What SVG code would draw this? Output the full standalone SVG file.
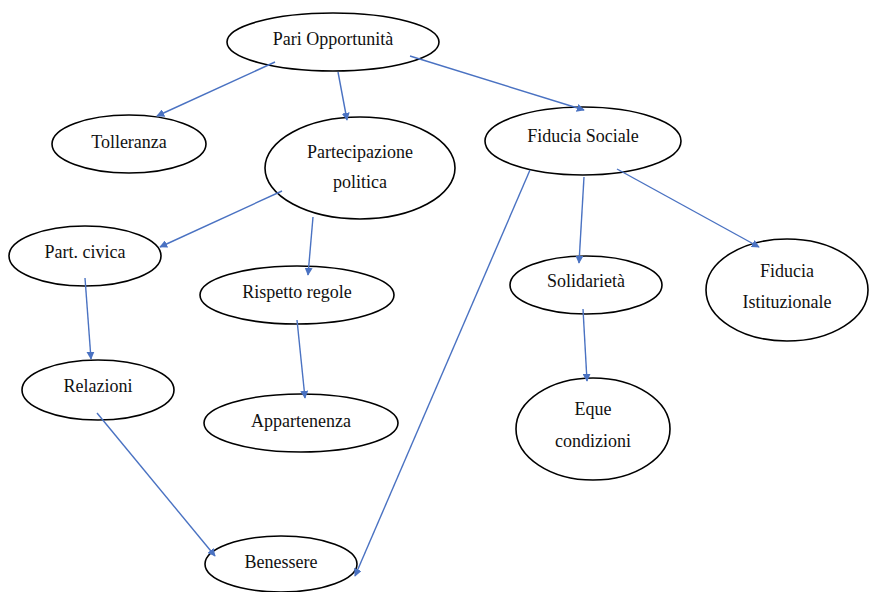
<svg xmlns="http://www.w3.org/2000/svg" width="869" height="592" viewBox="0 0 869 592">
<style>
.n ellipse{fill:#fff;stroke:#000;stroke-width:1.6}
.n text{font-family:'Liberation Serif','Times New Roman','DejaVu Serif',serif;font-size:18px;fill:#111;text-anchor:middle}
.c line{stroke:#4a72c2;stroke-width:1.4;marker-end:url(#ah)}
</style>
<defs>
<marker id="ah" viewBox="0 0 10 10" refX="9" refY="5" markerWidth="8" markerHeight="8" markerUnits="userSpaceOnUse" orient="auto">
<path d="M0,0 L10,5 L0,10 z" fill="#4a72c2"/>
</marker>
</defs>
<rect width="869" height="592" fill="#fff"/>
<g id="n-pari" class="n"><ellipse cx="333" cy="42" rx="106" ry="29"/><text x="333" y="45">Pari Opportunità</text></g>
<g id="n-tolleranza" class="n"><ellipse cx="129" cy="144" rx="77" ry="29"/><text x="129" y="148">Tolleranza</text></g>
<g id="n-partecipazione" class="n"><ellipse cx="360" cy="168" rx="95" ry="51"/><text x="360" y="158">Partecipazione</text><text x="360" y="188">politica</text></g>
<g id="n-fiducia-sociale" class="n"><ellipse cx="583" cy="141" rx="98" ry="34"/><text x="583" y="142">Fiducia Sociale</text></g>
<g id="n-part-civica" class="n"><ellipse cx="85" cy="256" rx="76" ry="30"/><text x="85" y="258">Part. civica</text></g>
<g id="n-rispetto" class="n"><ellipse cx="297" cy="295" rx="97" ry="29"/><text x="297" y="298">Rispetto regole</text></g>
<g id="n-relazioni" class="n"><ellipse cx="98" cy="390" rx="76" ry="30"/><text x="98" y="392">Relazioni</text></g>
<g id="n-appartenenza" class="n"><ellipse cx="301" cy="423" rx="97" ry="29"/><text x="301" y="427">Appartenenza</text></g>
<g id="n-benessere" class="n"><ellipse cx="281" cy="564" rx="76" ry="28"/><text x="281" y="568">Benessere</text></g>
<g id="n-solidarieta" class="n"><ellipse cx="586" cy="285" rx="76" ry="29"/><text x="586" y="287">Solidarietà</text></g>
<g id="n-fiducia-ist" class="n"><ellipse cx="787" cy="290" rx="81" ry="51"/><text x="787" y="277">Fiducia</text><text x="787" y="308">Istituzionale</text></g>
<g id="n-eque" class="n"><ellipse cx="593" cy="429" rx="77" ry="51"/><text x="593" y="415">Eque</text><text x="593" y="447">condizioni</text></g>
<g id="connectors" class="c">
<line x1="275" y1="62" x2="157" y2="116"/>
<line x1="338" y1="72" x2="347" y2="120"/>
<line x1="410" y1="56" x2="584" y2="110"/>
<line x1="282" y1="191" x2="160" y2="247"/>
<line x1="313" y1="217" x2="308" y2="275"/>
<line x1="85" y1="278" x2="91" y2="359"/>
<line x1="297" y1="320" x2="305" y2="398"/>
<line x1="97" y1="413" x2="215" y2="556"/>
<line x1="530" y1="170" x2="355" y2="576"/>
<line x1="584" y1="177" x2="579" y2="263"/>
<line x1="617" y1="169" x2="759" y2="247"/>
<line x1="583" y1="309" x2="587" y2="381"/>
</g>
</svg>
